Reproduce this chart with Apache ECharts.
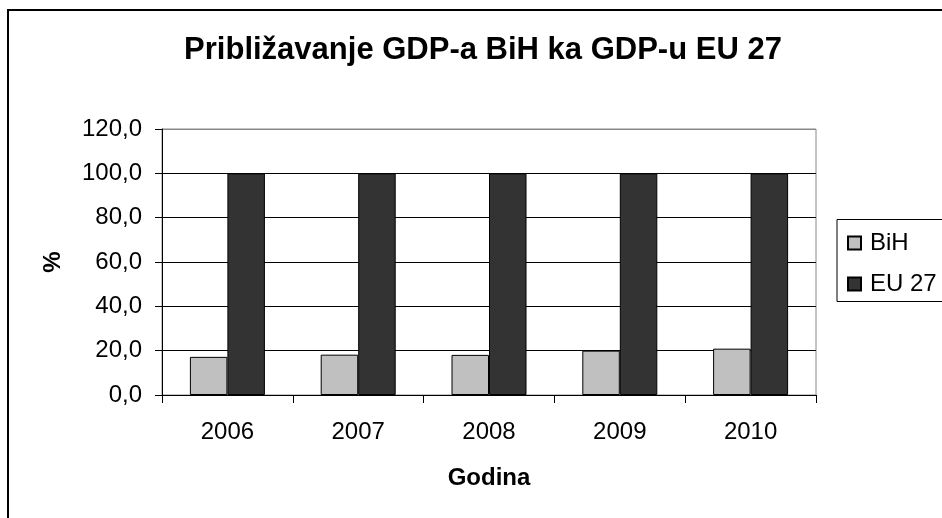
<!DOCTYPE html>
<html>
<head>
<meta charset="utf-8">
<script src="https://cdn.jsdelivr.net/npm/echarts@6/dist/echarts.min.js"></script>
<style>
html,body{margin:0;padding:0;background:#fff;}
#chart{width:942px;height:518px;}
</style>
</head>
<body>
<div id="chart"></div>
<script>
const titleText = 'Približavanje GDP-a BiH ka GDP-u EU 27';
const categories = ['2006', '2007', '2008', '2009', '2010'];
const bihValues = [17.2, 18.2, 18.1, 20.0, 20.9];
const euValues = [100, 100, 100, 100, 100];
const seriesNames = ['BiH', 'EU 27'];
const yAxisName = '%';
const xAxisName = 'Godina';

const FONT = '"Liberation Sans", Arial, sans-serif';
const chart = echarts.init(document.getElementById('chart'), null, {renderer: 'canvas'});
chart.setOption({
  animation: false,
  backgroundColor: '#fff',
  textStyle: {fontFamily: FONT, color: '#000'},
  title: {
    text: titleText,
    left: 478, top: 30, textAlign: 'center',
    textStyle: {fontFamily: FONT, fontSize: 31, fontWeight: 'bold', color: '#000'}
  },
  graphic: [
    {type: 'rect', shape: {x: 8, y: 10, width: 1000, height: 600},
     style: {fill: 'none', stroke: '#000', lineWidth: 2}, z: 0},
    {type: 'rect', shape: {x: 837, y: 219.5, width: 200, height: 82},
     style: {fill: '#fff', stroke: '#000', lineWidth: 1}, z: 1}
  ],
  legend: {
    orient: 'vertical',
    left: 847, top: 231,
    itemWidth: 13, itemHeight: 13, itemGap: 17,
    icon: 'rect',
    padding: 0,
    textStyle: {fontFamily: FONT, fontSize: 24, color: '#000', padding: [0, 0, 0, 4]},
    data: seriesNames,
    z: 5
  },
  grid: {
    left: 162, right: 126, top: 129, bottom: 123,
    show: true, borderColor: '#888', borderWidth: 1, backgroundColor: 'transparent'
  },
  xAxis: {
    type: 'category',
    data: categories,
    name: xAxisName,
    nameLocation: 'middle',
    nameGap: 71,
    nameTextStyle: {fontFamily: FONT, fontSize: 24, fontWeight: 'bold', color: '#000'},
    axisLine: {lineStyle: {color: '#000', width: 1}},
    axisTick: {show: true, length: 8, lineStyle: {color: '#000'}},
    axisLabel: {fontFamily: FONT, fontSize: 24, color: '#000', margin: 25},
    splitLine: {show: false}
  },
  yAxis: {
    type: 'value',
    min: 0, max: 120, interval: 20,
    name: yAxisName,
    nameLocation: 'middle',
    nameGap: 97,
    nameRotate: 90,
    nameTextStyle: {fontFamily: FONT, fontSize: 24, fontWeight: 'bold', color: '#000'},
    axisLine: {show: true, lineStyle: {color: '#000', width: 1}},
    axisTick: {show: true, length: 7, lineStyle: {color: '#000'}},
    axisLabel: {
      fontFamily: FONT, fontSize: 24, color: '#000', margin: 20,
      formatter: v => v.toFixed(1).replace('.', ',')
    },
    splitLine: {show: true, lineStyle: {color: ['#000', '#000', '#000', '#000', '#000', '#000', '#888'], width: 1}}
  },
  series: [
    {
      name: seriesNames[0], type: 'bar', data: bihValues,
      barWidth: 37.5, barGap: '0%',
      itemStyle: {color: '#c0c0c0', borderColor: '#000', borderWidth: 1}
    },
    {
      name: seriesNames[1], type: 'bar', data: euValues,
      barWidth: 37.5, barGap: '0%',
      itemStyle: {color: '#333333', borderColor: '#000', borderWidth: 1}
    }
  ]
});
</script>
</body>
</html>
